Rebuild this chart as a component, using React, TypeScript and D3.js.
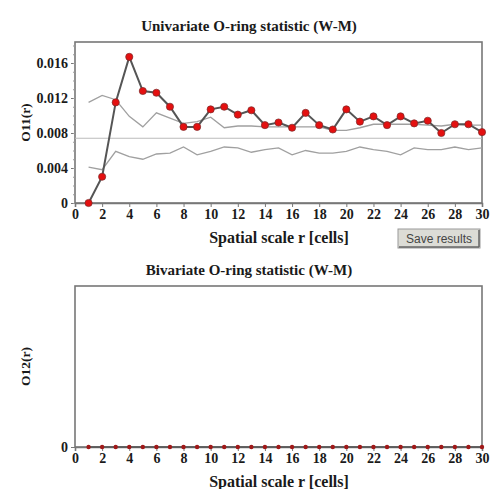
import * as d3 from "d3";
import { useEffect, useRef } from "react";

// spatial scale r (cells)
const radii = d3.range(1, 31);
// observed univariate O-ring values O11(r)
const o11 = [
  0.0, 0.003, 0.0115, 0.0167, 0.0128, 0.0126, 0.011, 0.0087, 0.0087, 0.0107,
  0.011, 0.0101, 0.0106, 0.0089, 0.0092, 0.0086, 0.0103, 0.0089, 0.0084, 0.0107,
  0.0093, 0.0099, 0.0089, 0.0099, 0.0091, 0.0094, 0.008, 0.009, 0.009, 0.0081,
];
// simulation envelopes
const upperEnv = [
  0.0115, 0.0123, 0.0118, 0.0099, 0.0087, 0.0103, 0.0097, 0.0091, 0.0093, 0.0098,
  0.0086, 0.0088, 0.0088, 0.0087, 0.0087, 0.0087, 0.0087, 0.0087, 0.0083, 0.0083,
  0.0086, 0.009, 0.009, 0.009, 0.009, 0.0089, 0.0088, 0.009, 0.0089, 0.0089,
];
const lowerEnv = [
  0.0041, 0.0038, 0.0059, 0.0053, 0.005, 0.0056, 0.0057, 0.0064, 0.0055, 0.0059,
  0.0064, 0.0063, 0.0058, 0.0061, 0.0063, 0.0055, 0.006, 0.0057, 0.0057, 0.0059,
  0.0064, 0.0061, 0.0059, 0.0055, 0.0063, 0.0061, 0.0061, 0.0064, 0.0061, 0.0063,
];
const nullLevel = 0.0074;
// bivariate O-ring values O12(r): all zero
const o12 = radii.map(() => 0);

const xTicks = d3.range(0, 31, 2);
const yTicksTop = [0, 0.004, 0.008, 0.012, 0.016];

const W = 491;
const H = 489;
const FONT = "Liberation Serif, Times New Roman, Times, serif";

export default function App() {
  const ref = useRef<SVGSVGElement>(null);

  useEffect(() => {
    const svg = d3.select(ref.current);
    svg.selectAll("*").remove();

    svg.append("rect").attr("width", W).attr("height", H).attr("fill", "#fff");

    const left = 75;
    const right = 482;

    const txt = (sel: any, size: number) =>
      sel
        .attr("font-family", FONT)
        .attr("font-weight", "bold")
        .attr("font-size", size)
        .attr("fill", "#1a1a1a");

    const drawPanel = (
      top: number,
      bottom: number,
      yDomain: [number, number],
      yTicks: number[],
      fmt: (d: number) => string,
      title: string,
      yLabel: string,
      withMinor: boolean
    ) => {
      const x = d3.scaleLinear().domain([0, 30]).range([left, right]);
      const y = d3.scaleLinear().domain(yDomain).range([bottom, top]);

      // title
      txt(svg.append("text"), 15)
        .attr("x", 249)
        .attr("y", top - 11)
        .attr("text-anchor", "middle")
        .text(title);

      // frame
      svg.append("rect")
        .attr("x", left)
        .attr("y", top)
        .attr("width", right - left)
        .attr("height", bottom - top)
        .attr("fill", "none")
        .attr("stroke", "#777")
        .attr("stroke-width", 1.6);

      // y axis
      const yAxis = d3.axisLeft(y).tickValues(yTicks).tickFormat((d) => fmt(+d)).tickSize(4).tickPadding(3);
      const gy = svg.append("g").attr("transform", `translate(${left},0)`).call(yAxis);
      gy.attr("font-family", null).attr("font-size", null);
      gy.select(".domain").remove();
      gy.selectAll("line").attr("stroke", "#777");
      txt(gy.selectAll("text"), 14);
      if (withMinor) {
        const minor = d3.axisLeft(y).ticks(18).tickFormat(() => "").tickSize(2);
        const gm = svg.append("g").attr("transform", `translate(${left},0)`).call(minor);
        gm.select(".domain").remove();
        gm.selectAll("line").attr("stroke", "#999");
      }

      // x axis
      const xAxis = d3.axisBottom(x).tickValues(xTicks).tickFormat((d) => String(d)).tickSize(4).tickPadding(2);
      const gx = svg.append("g").attr("transform", `translate(0,${bottom})`).call(xAxis);
      gx.attr("font-family", null).attr("font-size", null);
      gx.select(".domain").attr("stroke", "#777").attr("stroke-width", 1.6);
      gx.selectAll("line").attr("stroke", "#777");
      txt(gx.selectAll("text"), 14);

      txt(svg.append("text"), 16)
        .attr("x", 279)
        .attr("y", bottom + 40)
        .attr("text-anchor", "middle")
        .text("Spatial scale r [cells]");

      txt(svg.append("text"), 13.5)
        .attr("transform", `translate(${30},${(top + bottom) / 2}) rotate(-90)`)
        .attr("text-anchor", "middle")
        .text(yLabel);

      return { x, y };
    };

    // ---- top panel
    const top = drawPanel(42, 203, [0, 0.0184], yTicksTop, (d) => (d === 0 ? "0" : d3.format(".3f")(d)),
      "Univariate O-ring statistic (W-M)", "O11(r)", true);

    svg.append("line")
      .attr("x1", left).attr("x2", right)
      .attr("y1", top.y(nullLevel)).attr("y2", top.y(nullLevel))
      .attr("stroke", "#bbb").attr("stroke-width", 1.2);

    const envLine = d3.line<number>().x((_, i) => top.x(radii[i])).y((d) => top.y(d));
    [upperEnv, lowerEnv].forEach((env) => {
      svg.append("path")
        .attr("d", envLine(env))
        .attr("fill", "none")
        .attr("stroke", "#a0a0a0")
        .attr("stroke-width", 1.3);
    });

    svg.append("path")
      .attr("d", envLine(o11))
      .attr("fill", "none")
      .attr("stroke", "#555")
      .attr("stroke-width", 2);

    svg.selectAll("circle.o11")
      .data(o11)
      .enter()
      .append("circle")
      .attr("class", "o11")
      .attr("cx", (_, i) => top.x(radii[i]))
      .attr("cy", (d) => top.y(d))
      .attr("r", 3.6)
      .attr("fill", "#e41010")
      .attr("stroke", "#7a2a2a")
      .attr("stroke-width", 0.7);

    // Save results button
    const btn = svg.append("g").attr("transform", "translate(398,229)");
    btn.append("rect").attr("width", 82).attr("height", 19).attr("fill", "#dcdcd6").attr("stroke", "#999");
    btn.append("line").attr("x1", 1).attr("y1", 18).attr("x2", 81).attr("y2", 18).attr("stroke", "#666").attr("stroke-width", 1.5);
    btn.append("line").attr("x1", 81).attr("y1", 1).attr("x2", 81).attr("y2", 18).attr("stroke", "#666").attr("stroke-width", 1.5);
    btn.append("text")
      .attr("x", 41).attr("y", 14)
      .attr("text-anchor", "middle")
      .attr("font-family", "Liberation Sans, Arial, sans-serif")
      .attr("font-size", 12)
      .attr("fill", "#444")
      .text("Save results");

    // ---- bottom panel
    const bot = drawPanel(286, 447, [0, 1], [0], () => "0",
      "Bivariate O-ring statistic (W-M)", "O12(r)", false);

    svg.append("path")
      .attr("d", d3.line<number>().x((_, i) => bot.x(radii[i])).y((d) => bot.y(d))(o12))
      .attr("fill", "none")
      .attr("stroke", "#555")
      .attr("stroke-width", 1.5);

    svg.selectAll("circle.o12")
      .data(o12)
      .enter()
      .append("circle")
      .attr("class", "o12")
      .attr("cx", (_, i) => bot.x(radii[i]))
      .attr("cy", (d) => bot.y(d))
      .attr("r", 2.2)
      .attr("fill", "#a01818");
  }, []);

  return (
    <svg
      ref={ref}
      width={W}
      height={H}
      style={{ position: "absolute", left: 0, top: 0 }}
    />
  );
}
